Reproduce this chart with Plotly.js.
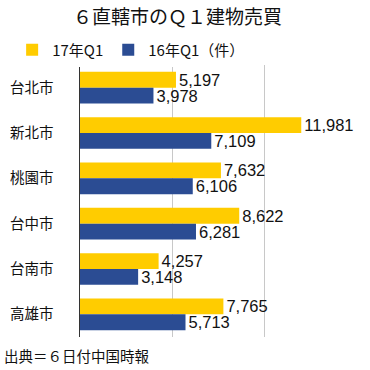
<!DOCTYPE html>
<html><head><meta charset="utf-8">
<script src="https://cdn.plot.ly/plotly-3.0.1.min.js"></script>
<style>html,body{margin:0;padding:0;background:#fff}#c{width:370px;height:370px}</style>
</head><body><div id="c"></div>
<script>
const categories = ['台北市','新北市','桃園市','台中市','台南市','高雄市'];
const q1_2017 = [5197, 11981, 7632, 8622, 4257, 7765];
const q1_2016 = [3978, 7109, 6106, 6281, 3148, 5713];
const seriesNames = ['17年Q1','16年Q1（件）'];

const cjk = 'Noto Sans CJK JP, sans-serif';
const num = 'Liberation Sans, Arial, sans-serif';
const fmt = v => v.toLocaleString('en-US');

const traces = [
  {type:'bar', orientation:'h', name:seriesNames[0], y:categories, x:q1_2017,
   marker:{color:'#FFCC00'}, text:q1_2017.map(fmt), textposition:'outside', constraintext:'none',
   textfont:{family:num, size:16.5, color:'#111'}, cliponaxis:false, hoverinfo:'none'},
  {type:'bar', orientation:'h', name:seriesNames[1], y:categories, x:q1_2016,
   marker:{color:'#2B4C93'}, text:q1_2016.map(fmt), textposition:'outside', constraintext:'none',
   textfont:{family:num, size:16.5, color:'#111'}, cliponaxis:false, hoverinfo:'none'}
];

const layout = {
  width:370, height:370,
  margin:{l:72, r:13, t:65, b:33},
  paper_bgcolor:'#fff', plot_bgcolor:'#fff',
  barmode:'group', bargap:0.3, bargroupgap:0,
  showlegend:true,
  title:{text:'６直轄市のＱ１建物売買', font:{family:cjk, size:19, color:'#111'},
         x:0.48, xref:'container', xanchor:'center', y:1-17/370, yref:'container', yanchor:'middle'},
  legend:{orientation:'h', x:-0.245, xanchor:'left', y:1.055, yanchor:'middle',
          font:{family:cjk, size:15, color:'#111'}, traceorder:'normal', itemclick:false},
  xaxis:{range:[0,15000], dtick:5000, showticklabels:false, showgrid:true, gridcolor:'#c8c8c8',
         gridwidth:1, zeroline:false, showline:false, fixedrange:true},
  yaxis:{autorange:'reversed', type:'category', showline:true, linecolor:'#333', linewidth:1.5,
         ticks:'', ticklabelstandoff:22, tickfont:{family:cjk, size:14.5, color:'#111'}, fixedrange:true},
  annotations:[{text:'出典＝６日付中国時報', xref:'paper', yref:'paper', x:-80/285, y:-18/272,
                xanchor:'left', yanchor:'middle', showarrow:false, font:{family:cjk, size:14.5, color:'#111'}}]
};
Plotly.newPlot('c', traces, layout, {displayModeBar:false, staticPlot:true});
</script></body></html>
